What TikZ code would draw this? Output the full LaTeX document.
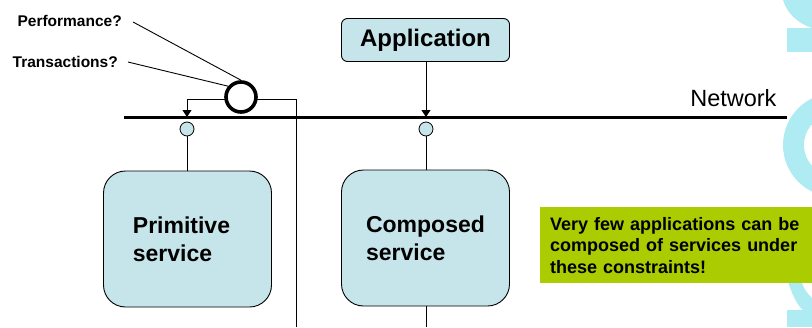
\documentclass[tikz,border=0pt]{standalone}
\usepackage{fontspec}
\setmainfont{Liberation Sans}
\usetikzlibrary{arrows.meta,positioning,calc}
\definecolor{svcFill}{HTML}{C6E5EA}
\definecolor{svcDeco}{HTML}{AEEBF2}
\definecolor{svcNote}{HTML}{AACC00}
\tikzset{
    % boxes for services and the client
    svcBox/.style={draw=black, line width=0.9pt, rounded corners=22pt, fill=svcFill,
        minimum width=168pt, minimum height=136pt, align=left, inner sep=0pt,
        font=\fontsize{23}{28}\selectfont\bfseries},
    appBox/.style={draw=black, line width=0.9pt, rounded corners=6pt, fill=svcFill,
        minimum width=168pt, minimum height=43pt, inner sep=0pt,
        font=\fontsize{24}{28}\selectfont\bfseries},
    port/.style={circle, draw=black, line width=0.8pt, fill=svcFill, minimum size=14pt, inner sep=0pt},
    txRing/.style={circle, draw=black, line width=3.6pt, fill=white, minimum size=30pt, inner sep=0pt},
    question/.style={font=\fontsize{15.5}{18}\selectfont\bfseries, inner sep=0pt},
    noteBox/.style={fill=svcNote, text width=252pt, minimum height=76pt, inner xsep=10pt, inner ysep=0pt,
        align=left, font=\fontsize{18}{21.5}\selectfont\bfseries},
    % lines
    netLine/.style={line width=3pt},
    link/.style={line width=0.9pt},
    callArrow/.style={line width=0.9pt, -{Triangle[length=7pt,width=9pt]}}
}

\begin{document}
\begin{tikzpicture}[x=1pt,y=-1pt]
    \useasboundingbox (0,0) rectangle (812,327);

    % Decoration along the right edge
    \begin{scope}
        \clip (0,0) rectangle (812,327);
        \fill[svcDeco] (783,0) .. controls (787,13) and (797,23) .. (812,28) -- (812,0) -- cycle;
        \fill[svcDeco] (787,28) rectangle (812,52);
        \fill[svcDeco, even odd rule] (835,145) circle (52) (835,145) circle (31);
        \fill[svcDeco] (786,275) .. controls (792,296) and (798,306) .. (803,310) -- (812,310)
            -- (812,298) .. controls (808,294) and (802,288) .. (800,275) -- cycle;
        \fill[svcDeco] (787,310) rectangle (812,327);
    \end{scope}

    % Network bus
    \coordinate (netL) at (124,117);
    \coordinate (netR) at (787,117);
    \draw[netLine] (netL) -- (netR);
    \node[anchor=base east, font=\fontsize{23.5}{26}\selectfont] (net) at (780,106) {Network};

    % Application and services
    \node[appBox] (app) at (425.5,40) {Application};
    \node[svcBox] (prim) at (187.5,239) {\hspace*{-12pt}Primitive\\\hspace*{-12pt}service};
    \node[svcBox] (comp) at (425.5,238) {Composed\\service};

    \node[port] (primPort) at (187,129) {};
    \node[port] (compPort) at (426,129) {};
    \draw[link] (primPort) -- (prim.north -| primPort);
    \draw[link] (compPort) -- (comp.north -| compPort);
    \draw[callArrow] (app.south -| compPort) -- (compPort |- netL);

    \coordinate (compEnd) at (426,327);
    \draw[link] (comp.south -| compEnd) -- (compEnd);

    % Call path through the constraint ring
    \coordinate (txBot) at (296,327);
    \coordinate (txTop) at (296,99);
    \coordinate (txLeft) at (187,99);
    \draw[callArrow] (txBot) -- (txTop) -- (txLeft) -- (txLeft |- netL);
    \node[txRing] (ring) at (241,97) {};

    % Open questions
    \node[question, anchor=east] (perf) at (122,21) {Performance?};
    \node[question, anchor=east] (trans) at (118,62) {Transactions?};
    \draw[link] ($(perf.east)+(11,1)$) -- (ring.north);
    \draw[link] ($(trans.east)+(10,0)$) -- (ring.140);

    % Remark
    \node[noteBox, anchor=north west] (note) at (540,207) {Very few applications can be\\composed of services under\\these constraints!};
\end{tikzpicture}
\end{document}
